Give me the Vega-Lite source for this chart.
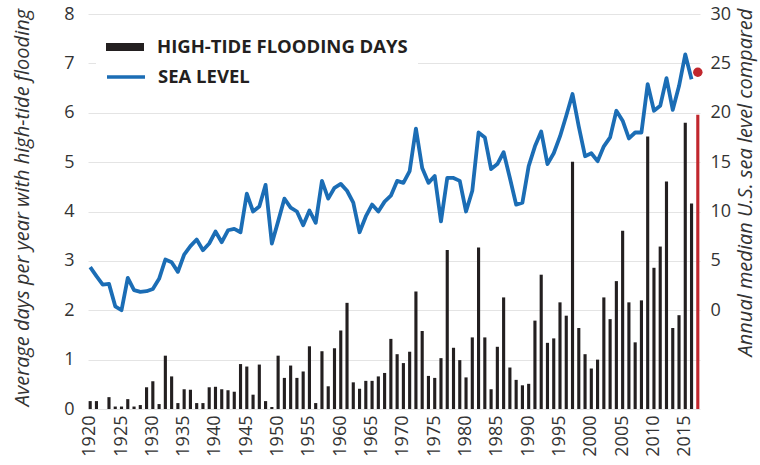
{
  "$schema": "https://vega.github.io/schema/vega-lite/v6.json",
  "width": 612,
  "height": 395,
  "autosize": {"type": "none"},
  "padding": {"left": 88, "top": 14, "right": 60, "bottom": 56},
  "background": "white",
  "config": {"view": {"stroke": null}, "font": "Open Sans"},
  "data": {"values": [
    {"year":1920,"days":0.16,"sea":4.36},{"year":1921,"days":0.16,"sea":3.45},{"year":1922,"days":0,"sea":2.6},{"year":1923,"days":0.24,"sea":2.67},{"year":1924,"days":0.05,"sea":0.4},
    {"year":1925,"days":0.05,"sea":0.0},{"year":1926,"days":0.2,"sea":3.28},{"year":1927,"days":0.05,"sea":2.03},{"year":1928,"days":0.08,"sea":1.86},{"year":1929,"days":0.44,"sea":1.93},
    {"year":1930,"days":0.56,"sea":2.16},{"year":1931,"days":0.1,"sea":3.18},{"year":1932,"days":1.08,"sea":5.14},{"year":1933,"days":0.66,"sea":4.86},{"year":1934,"days":0.12,"sea":3.89},
    {"year":1935,"days":0.4,"sea":5.64},{"year":1936,"days":0.39,"sea":6.49},{"year":1937,"days":0.12,"sea":7.16},{"year":1938,"days":0.12,"sea":6.08},{"year":1939,"days":0.44,"sea":6.76},
    {"year":1940,"days":0.45,"sea":7.97},{"year":1941,"days":0.4,"sea":6.89},{"year":1942,"days":0.38,"sea":8.1},{"year":1943,"days":0.35,"sea":8.24},{"year":1944,"days":0.91,"sea":7.9},
    {"year":1945,"days":0.86,"sea":11.8},{"year":1946,"days":0.29,"sea":10.0},{"year":1947,"days":0.9,"sea":10.5},{"year":1948,"days":0.16,"sea":12.7},{"year":1949,"days":0.04,"sea":6.76},
    {"year":1950,"days":1.08,"sea":9.0},{"year":1951,"days":0.63,"sea":11.3},{"year":1952,"days":0.88,"sea":10.4},{"year":1953,"days":0.63,"sea":10.0},{"year":1954,"days":0.76,"sea":8.6},
    {"year":1955,"days":1.27,"sea":10.1},{"year":1956,"days":0.12,"sea":8.85},{"year":1957,"days":1.17,"sea":13.1},{"year":1958,"days":0.46,"sea":11.3},{"year":1959,"days":1.23,"sea":12.4},
    {"year":1960,"days":1.59,"sea":12.8},{"year":1961,"days":2.15,"sea":12.1},{"year":1962,"days":0.54,"sea":10.9},{"year":1963,"days":0.41,"sea":7.9},{"year":1964,"days":0.57,"sea":9.5},
    {"year":1965,"days":0.57,"sea":10.7},{"year":1966,"days":0.66,"sea":10.0},{"year":1967,"days":0.73,"sea":11.0},{"year":1968,"days":1.42,"sea":11.6},{"year":1969,"days":1.11,"sea":13.1},
    {"year":1970,"days":0.93,"sea":12.9},{"year":1971,"days":1.16,"sea":14.1},{"year":1972,"days":2.38,"sea":18.4},{"year":1973,"days":1.58,"sea":14.4},{"year":1974,"days":0.67,"sea":12.9},
    {"year":1975,"days":0.63,"sea":13.6},{"year":1976,"days":1.03,"sea":9.0},{"year":1977,"days":3.22,"sea":13.4},{"year":1978,"days":1.24,"sea":13.4},{"year":1979,"days":0.99,"sea":13.1},
    {"year":1980,"days":0.64,"sea":10.0},{"year":1981,"days":1.45,"sea":12.1},{"year":1982,"days":3.27,"sea":18.0},{"year":1983,"days":1.45,"sea":17.5},{"year":1984,"days":0.4,"sea":14.3},
    {"year":1985,"days":1.26,"sea":14.8},{"year":1986,"days":2.26,"sea":16.0},{"year":1987,"days":0.84,"sea":13.4},{"year":1988,"days":0.59,"sea":10.7},{"year":1989,"days":0.48,"sea":10.9},
    {"year":1990,"days":0.51,"sea":14.6},{"year":1991,"days":1.79,"sea":16.6},{"year":1992,"days":2.72,"sea":18.1},{"year":1993,"days":1.34,"sea":14.8},{"year":1994,"days":1.43,"sea":15.9},
    {"year":1995,"days":2.16,"sea":17.6},{"year":1996,"days":1.89,"sea":19.7},{"year":1997,"days":5.01,"sea":21.9},{"year":1998,"days":1.64,"sea":18.6},{"year":1999,"days":1.11,"sea":15.6},
    {"year":2000,"days":0.82,"sea":15.9},{"year":2001,"days":1.0,"sea":15.1},{"year":2002,"days":2.26,"sea":16.6},{"year":2003,"days":1.82,"sea":17.5},{"year":2004,"days":2.59,"sea":20.2},
    {"year":2005,"days":3.61,"sea":19.2},{"year":2006,"days":2.16,"sea":17.4},{"year":2007,"days":1.35,"sea":18.0},{"year":2008,"days":2.2,"sea":18.0},{"year":2009,"days":5.52,"sea":22.9},
    {"year":2010,"days":2.86,"sea":20.2},{"year":2011,"days":3.29,"sea":20.7},{"year":2012,"days":4.61,"sea":23.5},{"year":2013,"days":1.64,"sea":20.3},{"year":2014,"days":1.9,"sea":22.7},
    {"year":2015,"days":5.8,"sea":25.9},{"year":2016,"days":4.16,"sea":23.4},{"year":2017,"days":5.96,"sea":24.1}
  ]},
  "encoding": {
    "x": {
      "field": "year", "type": "ordinal",
      "scale": {"paddingInner": 0.5, "paddingOuter": 0.1},
      "axis": {
        "values": [1920,1925,1930,1935,1940,1945,1950,1955,1960,1965,1970,1975,1980,1985,1990,1995,2000,2005,2010,2015],
        "title": null, "labelAngle": -90, "labelAlign": "right", "labelBaseline": "middle",
        "ticks": false, "domain": false, "labelPadding": 6,
        "labelFontSize": 18, "labelColor": "#333333", "labelFont": "Open Sans"
      }
    }
  },
  "layer": [
    {
      "encoding": {
        "y": {
          "field": "days", "type": "quantitative",
          "scale": {"domain": [0, 8]},
          "axis": {
            "orient": "left", "values": [0,1,2,3,4,5,6,7,8],
            "grid": true, "gridColor": "#e4e4e4", "gridWidth": 1,
            "domain": false, "ticks": false, "labelPadding": 14,
            "labelFontSize": 18, "labelColor": "#333333", "labelFont": "Open Sans",
            "title": "Average days per year with high-tide flooding",
            "titleFont": "Open Sans", "titleFontStyle": "italic", "titleFontWeight": "normal",
            "titleFontSize": 20, "titleColor": "#333333",
            "titleX": -66, "titleY": 193, "titleAngle": -90, "titleAlign": "center", "titleBaseline": "middle"
          }
        }
      },
      "layer": [
        {
          "transform": [{"filter": "datum.year < 2017"}],
          "mark": {"type": "bar"},
          "encoding": {
            "fill": {
              "datum": "HIGH-TIDE FLOODING DAYS",
              "scale": {"range": ["#231f20"]},
              "legend": {
                "orient": "none", "legendX": 8, "legendY": 4, "title": null,
                "symbolType": "M-1,-0.21L1,-0.21L1,0.21L-1,0.21Z", "symbolSize": 1444,
                "symbolStrokeWidth": 0, "symbolOpacity": 1,
                "labelFont": "Open Sans", "labelFontWeight": "bold", "labelFontSize": 18.5,
                "labelColor": "#231f20", "labelOffset": 13, "labelLimit": 500,
                "fillColor": "white", "padding": 10
              }
            }
          }
        },
        {
          "transform": [{"filter": "datum.year == 2017"}],
          "mark": {"type": "bar", "color": "#c1272d"}
        }
      ]
    },
    {
      "encoding": {
        "y": {
          "field": "sea", "type": "quantitative",
          "scale": {"domain": [-10, 30]},
          "axis": {
            "orient": "right", "values": [0,5,10,15,20,25,30],
            "grid": false, "domain": false, "ticks": false, "labelPadding": 10,
            "labelFontSize": 18, "labelColor": "#333333", "labelFont": "Open Sans",
            "title": "Annual median U.S. sea level compared",
            "titleFont": "Open Sans", "titleFontStyle": "italic", "titleFontWeight": "normal",
            "titleFontSize": 20, "titleColor": "#333333",
            "titleX": 45, "titleY": 168, "titleAngle": -90, "titleAlign": "center", "titleBaseline": "middle"
          }
        }
      },
      "layer": [
        {
          "transform": [{"filter": "datum.year < 2017"}],
          "mark": {"type": "line", "strokeWidth": 3.8, "strokeJoin": "round"},
          "encoding": {
            "stroke": {
              "datum": "SEA LEVEL",
              "scale": {"range": ["#1b6db5"]},
              "legend": {
                "orient": "none", "legendX": 17, "legendY": 42, "title": null,
                "symbolType": "stroke", "symbolSize": 1444, "symbolStrokeWidth": 3.5,
                "labelFont": "Open Sans", "labelFontWeight": "bold", "labelFontSize": 18.5,
                "labelColor": "#231f20", "labelOffset": 11, "labelLimit": 500,
                "padding": 0
              }
            }
          }
        },
        {
          "transform": [{"filter": "datum.year == 2017"}],
          "mark": {"type": "point", "filled": true, "color": "#c1272d", "size": 90, "opacity": 1}
        }
      ]
    }
  ],
  "resolve": {"scale": {"y": "independent", "fill": "independent", "stroke": "independent"}}
}
